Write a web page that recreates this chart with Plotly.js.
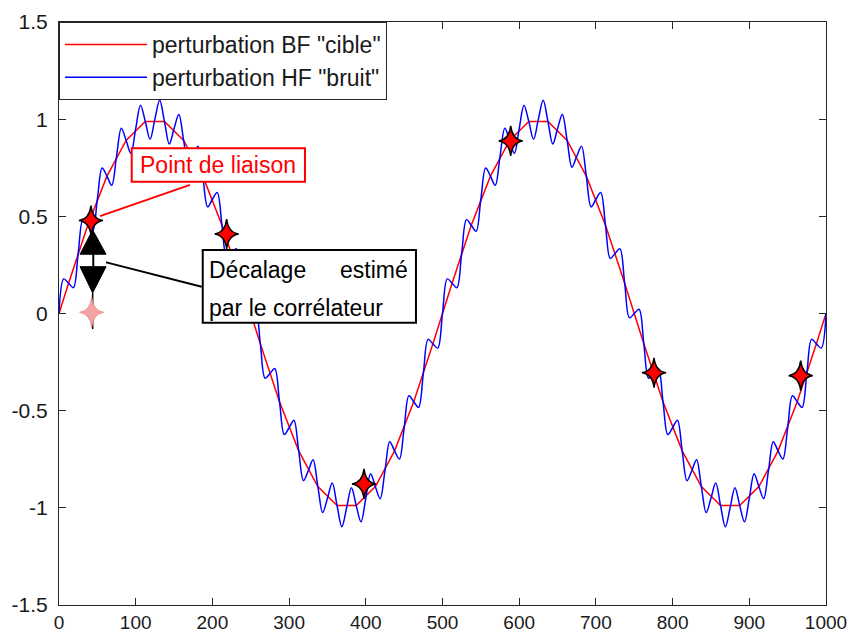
<!DOCTYPE html>
<html>
<head>
<meta charset="utf-8">
<script src="https://cdn.plot.ly/plotly-3.0.1.min.js"></script>
<style>html,body{margin:0;padding:0;background:#fff;}#chart{width:852px;height:633px;}</style>
</head>
<body>
<div id="chart"></div>
<script>
// ---- data ----
const redName = 'perturbation BF "cible"';
const blueName = 'perturbation HF "bruit"';

const redX = [0, 12.5, 37.5, 62.5, 87.5, 112.5, 137.5, 162.5, 187.5, 212.5, 237.5, 262.5, 287.5, 312.5, 337.5, 362.5, 387.5, 412.5, 437.5, 462.5, 487.5, 512.5, 537.5, 562.5, 587.5, 612.5, 637.5, 662.5, 687.5, 712.5, 737.5, 762.5, 787.5, 812.5, 837.5, 862.5, 887.5, 912.5, 937.5, 962.5, 987.5, 1000];
const redY = [0, 0.156, 0.454, 0.707, 0.891, 0.988, 0.988, 0.891, 0.707, 0.454, 0.156, -0.156, -0.454, -0.707, -0.891, -0.988, -0.988, -0.891, -0.707, -0.454, -0.156,
  0.156, 0.454, 0.707, 0.891, 0.988, 0.988, 0.891, 0.707, 0.454, 0.156, -0.156, -0.454, -0.707, -0.891, -0.988, -0.988, -0.891, -0.707, -0.454, -0.156, 0];

// blue samples every 6.25 units from 0 to 1000
const blueStart = 0;
const blueStep = 6.25;
const blueY = [
  0, 0.178, 0.156, 0.133, 0.309, 0.483, 0.454, 0.423, 0.588, 0.749,
  0.707, 0.660, 0.809, 0.953, 0.891, 0.824, 0.951, 1.072, 0.988, 0.897,
  1.000, 1.097, 0.988, 0.872, 0.951, 1.024, 0.891, 0.753, 0.809, 0.860,
  0.707, 0.549, 0.588, 0.623, 0.454, 0.283, 0.309, 0.333, 0.156, -0.022,
  0.000, 0.022, -0.156, -0.333, -0.309, -0.283, -0.454, -0.623, -0.588, -0.549,
  -0.707, -0.860, -0.809, -0.753, -0.891, -1.024, -0.951, -0.872, -0.988, -1.097,
  -1.000, -0.897, -0.988, -1.072, -0.951, -0.824, -0.891, -0.953, -0.809, -0.660,
  -0.707, -0.749, -0.588, -0.423, -0.454, -0.483, -0.309, -0.133, -0.156, -0.178,
  0.000, 0.178, 0.156, 0.133, 0.309, 0.483, 0.454, 0.423, 0.588, 0.749,
  0.707, 0.660, 0.809, 0.953, 0.891, 0.824, 0.951, 1.072, 0.988, 0.897,
  1.000, 1.097, 0.988, 0.872, 0.951, 1.024, 0.891, 0.753, 0.809, 0.860,
  0.707, 0.549, 0.588, 0.623, 0.454, 0.283, 0.309, 0.333, 0.156, -0.022,
  0.000, 0.022, -0.156, -0.333, -0.309, -0.283, -0.454, -0.623, -0.588, -0.549,
  -0.707, -0.860, -0.809, -0.753, -0.891, -1.024, -0.951, -0.872, -0.988, -1.097,
  -1.000, -0.897, -0.988, -1.072, -0.951, -0.824, -0.891, -0.953, -0.809, -0.660,
  -0.707, -0.749, -0.588, -0.423, -0.454, -0.483, -0.309, -0.133, -0.156, -0.178,
  0.000
];

const starX = [41.7, 218.6, 397.7, 588.9, 775.8, 967];
const starY = [0.478, 0.409, -0.877, 0.888, -0.305, -0.320];
const pinkX = [42.6];
const pinkY = [0.006];

const xTickVals = [0, 100, 200, 300, 400, 500, 600, 700, 800, 900, 1000];
const xTickText = ['0', '100', '200', '300', '400', '500', '600', '700', '800', '900', '1000'];
const yTickVals = [-1.5, -1, -0.5, 0, 0.5, 1, 1.5];
const yTickText = ['-1.5', '-1', '-0.5', '0', '0.5', '1', '1.5'];

const labelLink = 'Point de liaison';
const labelShift1a = 'Décalage';
const labelShift1b = 'estimé';
const labelShift2 = 'par le corrélateur';

// ---- chart ----
const FONT = 'Liberation Sans, Arial, sans-serif';
// 4-pointed star outline, in pixels around its anchor point
const STAR_PATH = 'M0,15 Q1.5,1.5 12,0 Q1.5,-1.5 0,-15 Q-1.5,-1.5 -12,0 Q-1.5,1.5 0,15 Z';

const traces = [
  {x: redX, y: redY, type: 'scatter', mode: 'lines', name: redName,
   line: {color: '#ff0000', width: 1.5}},
  {x0: blueStart, dx: blueStep, y: blueY, type: 'scatter', mode: 'lines', name: blueName,
   line: {color: '#0000ff', width: 1.5, shape: 'spline', smoothing: 1}}
];

function starShape(x, y, fill, stroke, w) {
  return {type: 'path', xref: 'x', yref: 'y', xsizemode: 'pixel', ysizemode: 'pixel',
    xanchor: x, yanchor: y, path: STAR_PATH, fillcolor: fill, line: {color: stroke, width: w}};
}

const axisCommon = {
  showgrid: false, zeroline: false, showline: true, linecolor: '#262626', linewidth: 1,
  mirror: 'ticks', ticks: 'inside', ticklen: 7, tickwidth: 1, tickcolor: '#262626',
  tickfont: {family: FONT, size: 21, color: '#1a1a1a'}, tickmode: 'array'
};

const shapes = [
  {type: 'line', xref: 'x', yref: 'y', x0: 43.9, y0: 0.106, x1: 43.9, y1: -0.080, layer: 'below',
   line: {color: '#000', width: 1.5}},
  {type: 'line', xref: 'x', yref: 'y', x0: 53.5, y0: 0.501, x1: 170.8, y1: 0.662, line: {color: '#ff0000', width: 2}},
  {type: 'line', xref: 'x', yref: 'y', x0: 57.8, y0: 0.267, x1: 186, y1: 0.138, line: {color: '#000', width: 2}},
  {type: 'rect', xref: 'x', yref: 'y', x0: 94.8, x1: 320.7, y0: 0.678, y1: 0.850,
   fillcolor: '#fff', line: {color: '#ff0000', width: 2}},
  {type: 'rect', xref: 'x', yref: 'y', x0: 187.4, x1: 465.4, y0: -0.047, y1: 0.327,
   fillcolor: '#fff', line: {color: '#000', width: 2}},
  {type: 'rect', xref: 'x', yref: 'y', x0: 27.4, x1: 61.3, y0: 0.241, y1: 0.305,
   fillcolor: '#fff', line: {width: 0}},
  {type: 'path', xref: 'x', yref: 'y', path: 'M27.4,0.305 L61.3,0.305 L43.9,0.430 Z',
   fillcolor: '#000', line: {color: '#000', width: 1}},
  {type: 'path', xref: 'x', yref: 'y', path: 'M27.4,0.241 L61.3,0.241 L43.9,0.106 Z',
   fillcolor: '#000', line: {color: '#000', width: 1}},
  {type: 'line', xref: 'x', yref: 'y', x0: 44.7, y0: 0.241, x1: 44.7, y1: 0.305, line: {color: '#000', width: 2}}
]
  .concat(pinkX.map((x, i) => starShape(x, pinkY[i], '#f5a3a3', '#ee8e8e', 1)))
  .concat(starX.map((x, i) => starShape(x, starY[i], '#ff0000', '#000000', 1.5)));

const annotations = [
  {xref: 'x', yref: 'y', x: 207.8, y: 0.764, text: labelLink, showarrow: false,
   xanchor: 'center', yanchor: 'middle', font: {family: FONT, size: 23, color: '#ff0000'}},
  {xref: 'x', yref: 'y', x: 192.6, y: 0.224, text: labelShift1a, showarrow: false,
   xanchor: 'left', yanchor: 'middle', font: {family: FONT, size: 23, color: '#000'}},
  {xref: 'x', yref: 'y', x: 457.6, y: 0.224, text: labelShift1b, showarrow: false,
   xanchor: 'right', yanchor: 'middle', font: {family: FONT, size: 23, color: '#000'}},
  {xref: 'x', yref: 'y', x: 192.6, y: 0.027, text: labelShift2, showarrow: false,
   xanchor: 'left', yanchor: 'middle', font: {family: FONT, size: 23, color: '#000'}}
];

const layout = {
  width: 852, height: 633,
  margin: {l: 59, r: 26, t: 22, b: 28, pad: 0},
  paper_bgcolor: '#fff', plot_bgcolor: '#fff',
  font: {family: FONT, size: 21, color: '#1a1a1a'},
  xaxis: Object.assign({}, axisCommon, {range: [0, 1000], tickvals: xTickVals, ticktext: xTickText,
    tickfont: {family: FONT, size: 19, color: '#1a1a1a'}}),
  yaxis: Object.assign({}, axisCommon, {range: [-1.5, 1.5], tickvals: yTickVals, ticktext: yTickText, ticklabelstandoff: 6}),
  showlegend: true,
  legend: {x: 0, y: 1, xanchor: 'left', yanchor: 'top', xref: 'paper', yref: 'paper',
    bgcolor: '#fff', bordercolor: '#262626', borderwidth: 1, itemwidth: 82,
    font: {family: FONT, size: 23, color: '#1a1a1a'}, tracegroupgap: 0},
  shapes: shapes,
  annotations: annotations
};

Plotly.newPlot('chart', traces, layout, {displayModeBar: false, staticPlot: true});
</script>
</body>
</html>
